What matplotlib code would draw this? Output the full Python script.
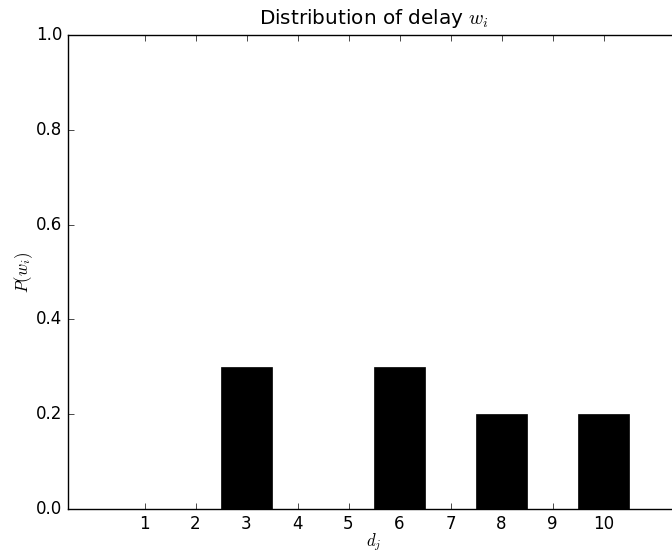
import matplotlib
matplotlib.use("Agg")
import matplotlib.pyplot as plt
import numpy as np

# delay values d_j and their probabilities
delays = ["1", "2", "3", "4", "5", "6", "7", "8", "9", "10"]
probs = [0.0, 0.0, 0.3, 0.0, 0.0, 0.3, 0.0, 0.2, 0.0, 0.2]

plt.style.use("classic")

fig = plt.figure(figsize=(6.72, 5.56), dpi=100, facecolor="white")
ax = fig.add_axes([68 / 672, 47 / 556, 612 / 672, 474 / 556])

idx = np.arange(len(delays))
ax.bar(idx, probs, width=1.0, align="edge", color="black", edgecolor="black", linewidth=0.5)
ax.set_xticks(idx + 0.5)
ax.set_xticklabels(delays)
ax.set_xlim(-1, len(delays) + 1)
ax.set_ylim(0, 1.0)

ax.set_title(r"Distribution of delay $w_i$", pad=8)
ax.set_ylabel(r"$P(w_i)$", labelpad=1)
ax.set_xlabel(r"$d_j$", labelpad=-1)

fig.savefig("out.png", dpi=100, facecolor="white")
